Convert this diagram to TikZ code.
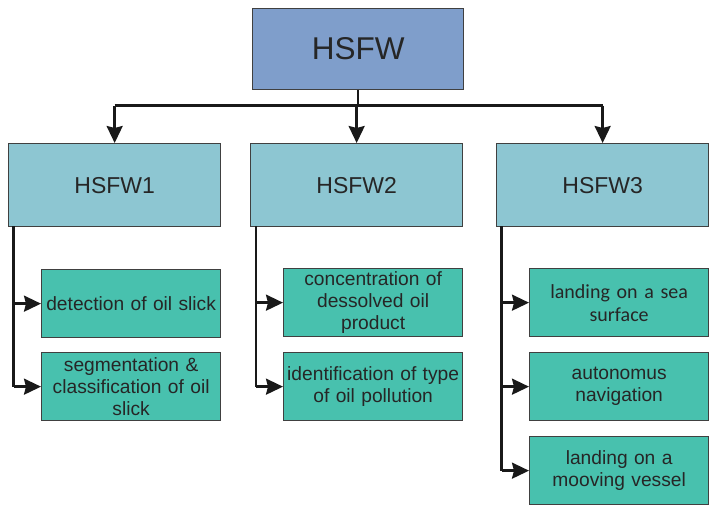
\documentclass[tikz,border=0pt]{standalone}
\usepackage{fontspec}
\setmainfont{Liberation Sans}
\newfontfamily\calib{Carlito}
\usetikzlibrary{arrows.meta}
\definecolor{topfill}{HTML}{7F9ECB}
\definecolor{midfill}{HTML}{8DC6D2}
\definecolor{leaffill}{HTML}{48C1AE}
\definecolor{edgecol}{HTML}{404040}
\begin{document}
\begin{tikzpicture}[x=1pt,y=-1pt,
  basebox/.style={draw=edgecol, line width=1.3pt, inner sep=0pt, align=center, anchor=north west, text=black!85},
  topbox/.style={basebox, fill=topfill, minimum width=211pt, minimum height=81pt, font=\fontsize{31.5}{36}\selectfont},
  midbox/.style={basebox, fill=midfill, minimum width=212pt, minimum height=83pt, font=\fontsize{23}{27}\selectfont},
  leafbox/.style={basebox, fill=leaffill, minimum width=179pt, minimum height=68pt, text width=178pt, font=\fontsize{19.2}{22}\selectfont},
  conn/.style={line width=2.4pt, black!90, -{Stealth[length=17pt,width=16pt,inset=2pt]}},
  plain/.style={line width=2.4pt, black!90}
]
\useasboundingbox (0,0) rectangle (709,506);

\node[topbox] (top) at (252,8) {HSFW};

\node[midbox] (m1) at (8,143) {HSFW1};
\node[midbox] (m2) at (250,143) {HSFW2};
\node[midbox] (m3) at (496,143) {HSFW3};

\node[leafbox] (a1) at (41,269) {detection of oil slick};
\node[leafbox] (a2) at (41,352) {segmentation \&\\ classification of oil\\ slick};

\node[leafbox] (b1) at (283,268) {concentration of\\ dessolved oil\\ product};
\node[leafbox] (b2) at (283,352) {identification of type\\ of oil pollution};

\node[leafbox, font=\calib\fontsize{20}{23}\selectfont] (c1) at (529,268) {landing on a sea\\ surface};
\node[leafbox] (c2) at (529,352) {autonomus\\ navigation};
\node[leafbox] (c3) at (529,436) {landing on a\\ mooving vessel};

% top-level bus
\coordinate (bus) at (357,105.5);
\draw[plain] (top.south) -- (top.south |- bus);
\draw[plain] (m1.north |- bus) -- (m3.north |- bus);
\draw[conn] (m1.north |- bus) -- (m1.north);
\draw[conn] (m2.north |- bus) -- (m2.north);
\draw[conn] (m3.north |- bus) -- (m3.north);

% column 1
\coordinate (v1) at (13.5,226);
\draw[plain] (v1) -- (v1 |- a2.west);
\draw[conn] (v1 |- a1.west) -- (a1.west);
\draw[conn] (v1 |- a2.west) -- (a2.west);

% column 2
\coordinate (v2) at (256,226);
\draw[plain] (v2) -- (v2 |- b2.west);
\draw[conn] (v2 |- b1.west) -- (b1.west);
\draw[conn] (v2 |- b2.west) -- (b2.west);

% column 3
\coordinate (v3) at (501.5,226);
\draw[plain] (v3) -- (v3 |- c3.west);
\draw[conn] (v3 |- c1.west) -- (c1.west);
\draw[conn] (v3 |- c2.west) -- (c2.west);
\draw[conn] (v3 |- c3.west) -- (c3.west);
\end{tikzpicture}
\end{document}
